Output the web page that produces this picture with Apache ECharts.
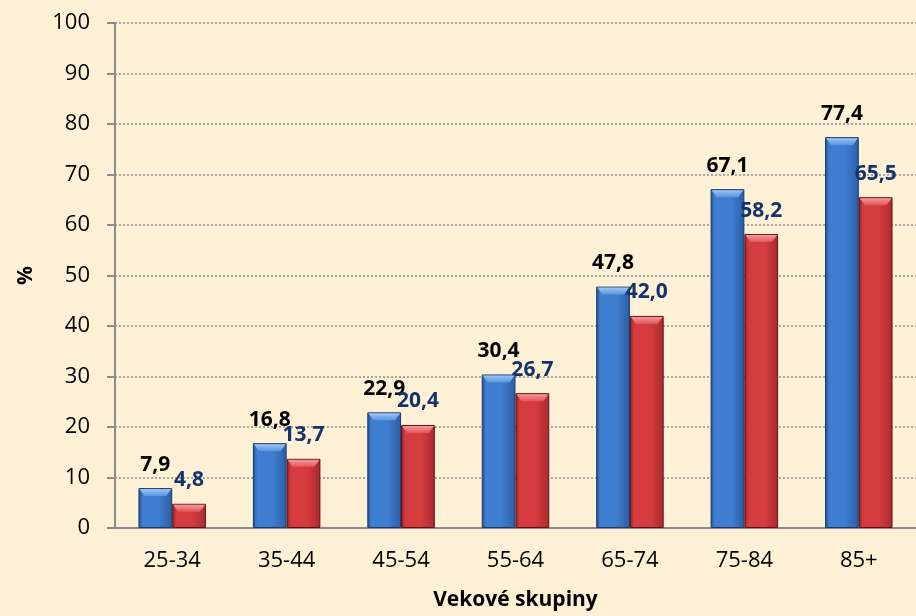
<!DOCTYPE html>
<html>
<head>
<meta charset="utf-8">
<script src="https://cdn.jsdelivr.net/npm/echarts@6/dist/echarts.min.js"></script>
<style>
html,body{margin:0;padding:0;background:#FEF1D6;}
#c{width:916px;height:616px;}
</style>
</head>
<body>
<div id="c"></div>
<script>
const categories = ['25-34','35-44','45-54','55-64','65-74','75-84','85+'];
const seriesBlue = [7.9, 16.8, 22.9, 30.4, 47.8, 67.1, 77.4];
const seriesRed = [4.8, 13.7, 20.4, 26.7, 42.0, 58.2, 65.5];
const yTicks = {min: 0, max: 100, interval: 10};

const chart = echarts.init(document.getElementById('c'), null, {renderer: 'canvas'});
const FONT = '"Open Sans", "Noto Sans", sans-serif';
const BAR_FRAC = 0.59; // share of the category band covered by the bar pair
function grad(edge, mid, edge2) {
  return new echarts.graphic.LinearGradient(0, 0, 1, 0, [
    {offset: 0, color: edge},
    {offset: 0.12, color: mid},
    {offset: 0.6, color: mid},
    {offset: 1, color: edge2}
  ]);
}
const fmt = p => p.value.toFixed(1).replace('.', ',');
function bevel(sideSign, light, mid) {
  return function (params, api) {
    const idx = api.value(0), v = api.value(1);
    const p = api.coord([idx, v]);
    const band = api.size([1, 0])[0];
    const bw = band * BAR_FRAC / 2;
    const x0 = sideSign < 0 ? p[0] - bw : p[0];
    const x1 = x0 + bw;
    const top = p[1] + 1;
    const b = 6;
    return {
      type: 'polygon',
      shape: {points: [[x0 + 1, top], [x1 - 1, top], [x1 - b, top + b + 1], [x0 + b, top + b + 1]]},
      style: {fill: new echarts.graphic.LinearGradient(0, 0, 0, 1, [
        {offset: 0, color: light}, {offset: 1, color: mid}])},
      silent: true
    };
  };
}
chart.setOption({
  backgroundColor: '#FEF1D6',
  animation: false,
  grid: {left: 115, right: -11, top: 23, bottom: 86.5, containLabel: false},
  xAxis: {
    type: 'category',
    data: categories,
    name: 'Vekové skupiny',
    nameLocation: 'middle',
    nameGap: 62,
    nameTextStyle: {fontFamily: FONT, fontWeight: 'bold', fontSize: 21, color: '#000'},
    axisLine: {lineStyle: {color: '#8C8C8C', width: 2}},
    axisTick: {show: false},
    axisLabel: {fontFamily: FONT, fontSize: 22, color: '#000', margin: 22}
  },
  yAxis: {
    type: 'value',
    min: yTicks.min, max: yTicks.max, interval: yTicks.interval,
    name: '%',
    nameLocation: 'middle',
    nameGap: 78,
    nameTextStyle: {fontFamily: FONT, fontWeight: 'bold', fontSize: 21, color: '#000'},
    axisLine: {show: true, lineStyle: {color: '#8C8C8C', width: 2}},
    axisTick: {show: true, length: 8, lineStyle: {color: '#8C8C8C', width: 2}},
    axisLabel: {fontFamily: FONT, fontSize: 22, color: '#000', margin: 25},
    splitLine: {show: true, lineStyle: {color: '#8C8C8C', type: [2, 2], width: 1.5}}
  },
  series: [
    {
      type: 'bar',
      data: seriesBlue,
      barGap: '0%',
      barCategoryGap: '41%',
      itemStyle: {color: grad('#1E4F90', '#3F7DD0', '#2A5EA6'), borderColor: '#1A3A66', borderWidth: 1},
      label: {show: true, position: 'top', distance: 13, formatter: fmt,
        fontFamily: FONT, fontWeight: 'bold', fontSize: 21, color: '#000'}
    },
    {
      type: 'bar',
      data: seriesRed,
      itemStyle: {color: grad('#8E1E22', '#D63C3F', '#A82A2E'), borderColor: '#5E1416', borderWidth: 1},
      label: {show: true, position: 'top', distance: 13, formatter: fmt,
        fontFamily: FONT, fontWeight: 'bold', fontSize: 21, color: '#14336E'}
    },
    {
      type: 'custom',
      renderItem: bevel(-1, '#9CC4F5', '#5A95DE'),
      data: seriesBlue.map((v, i) => [i, v]),
      encode: {x: 0, y: 1},
      z: 3
    },
    {
      type: 'custom',
      renderItem: bevel(1, '#F59A9A', '#E05558'),
      data: seriesRed.map((v, i) => [i, v]),
      encode: {x: 0, y: 1},
      z: 3
    }
  ]
});
</script>
</body>
</html>
